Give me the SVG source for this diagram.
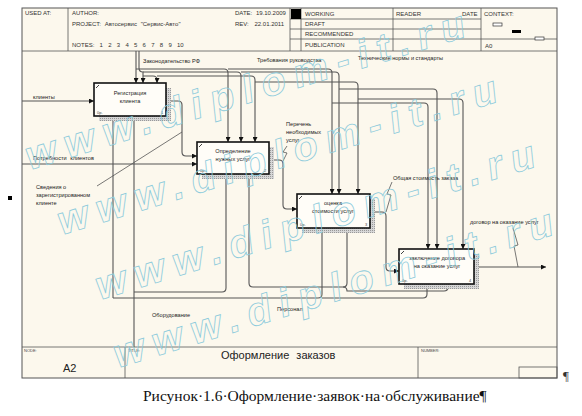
<svg xmlns="http://www.w3.org/2000/svg" width="582" height="416" viewBox="0 0 582 416">
<defs>
<marker id="ah" viewBox="0 0 6 6" refX="6" refY="3" markerWidth="5" markerHeight="5" orient="auto" markerUnits="userSpaceOnUse"><path d="M0,0 L6,3 L0,6 z" fill="#111"/></marker>
<pattern id="hatch" width="2" height="2" patternUnits="userSpaceOnUse"><rect width="2" height="2" fill="#d6d6d6"/><rect width="1" height="1" fill="#999"/></pattern>
</defs>
<style>
.t{font-family:"Liberation Sans",Arial,sans-serif;font-size:5.6px;fill:#222}
.h{font-family:"Liberation Sans",Arial,sans-serif;font-size:6px;fill:#333}
.s{font-family:"Liberation Sans",Arial,sans-serif;font-size:4px;fill:#444}
.box{fill:#fffdf8;stroke:#111;stroke-width:1.6}
.sh{fill:url(#hatch)}
.c{fill:none;stroke:#555;stroke-width:1.1}
.a{marker-end:url(#ah)}
.fr{fill:none;stroke:#555;stroke-width:0.8}
.sq{fill:none;stroke:#555;stroke-width:0.8}
.wm{font-family:"Liberation Sans",Arial,sans-serif;font-weight:bold;font-style:italic;font-size:40px;fill:none;stroke:#8ccbdc;stroke-width:0.8;letter-spacing:9px}
</style>
<rect width="582" height="416" fill="#fff"/>
<rect x="22" y="8" width="535" height="370" fill="#fcf8ed" stroke="#555" stroke-width="1"/>
<g id="header">
<line class="fr" x1="22" y1="51" x2="557" y2="51"/>
<line class="fr" x1="68" y1="8" x2="68" y2="51"/>
<line class="fr" x1="290" y1="8" x2="290" y2="51"/>
<line class="fr" x1="301" y1="8" x2="301" y2="51"/>
<line class="fr" x1="393" y1="8" x2="393" y2="51"/>
<line class="fr" x1="481" y1="8" x2="481" y2="51"/>
<line class="fr" x1="290" y1="19" x2="481" y2="19"/>
<line class="fr" x1="290" y1="29" x2="481" y2="29"/>
<line class="fr" x1="290" y1="39" x2="557" y2="39"/>
<rect x="291" y="9" width="10" height="10" fill="#000"/>
<text class="h" x="25" y="15">USED AT:</text>
<text class="h" x="72" y="15">AUTHOR:</text>
<text class="h" x="72" y="26" word-spacing="2">PROJECT: Автосервис "Сервис-Авто"</text>
<text class="h" x="72" y="47" word-spacing="3.6">NOTES: 1 2 3 4 5 6 7 8 9 10</text>
<text class="h" x="235" y="15" word-spacing="2">DATE: 19.10.2009</text>
<text class="h" x="235" y="26" word-spacing="4">REV: 22.01.2011</text>
<text class="h" x="305" y="16">WORKING</text>
<text class="h" x="305" y="26">DRAFT</text>
<text class="h" x="305" y="36">RECOMMENDED</text>
<text class="h" x="305" y="47">PUBLICATION</text>
<text class="h" x="396" y="16">READER</text>
<text class="h" x="462" y="16">DATE</text>
<text class="h" x="484" y="16">CONTEXT:</text>
<text class="h" x="485" y="48">A0</text>
<rect x="493" y="23" width="9" height="3" fill="#fff" stroke="#333" stroke-width="0.7"/>
<rect x="512" y="30" width="9" height="3" fill="#000"/>
<rect x="535" y="37" width="9" height="3" fill="#fff" stroke="#333" stroke-width="0.7"/>
</g>
<g id="footer">
<line class="fr" x1="22" y1="347" x2="557" y2="347"/>
<line class="fr" x1="125" y1="347" x2="125" y2="378"/>
<line class="fr" x1="418" y1="347" x2="418" y2="378"/>
<rect x="519" y="367" width="38" height="11" fill="none" stroke="#555" stroke-width="0.8"/>
<text class="s" x="24" y="352">NODE:</text>
<text class="s" x="128" y="352">TITLE:</text>
<text class="s" x="421" y="352">NUMBER:</text>
<text x="63" y="372" font-family="Liberation Sans, Arial, sans-serif" font-size="11" fill="#222">A2</text>
<text x="221" y="359" font-family="Liberation Sans, Arial, sans-serif" font-size="11" word-spacing="4" fill="#222">Оформление заказов</text>
</g>
<g id="connectors">
<!-- inputs / outputs -->
<path class="c a" d="M22,101 H94"/>
<path class="c a" d="M22,164 H197"/>
<path class="c a" d="M166,101 H178 q4,0 4,4 V152 q0,4 4,4 H197"/>
<path class="c a" d="M269,160 H279 q4,0 4,4 V205 q0,4 4,4 H297"/>
<path class="c a" d="M370,212 H382 q4,0 4,4 V267 q0,4 4,4 H399"/>
<path class="c a" d="M474,267 H546"/>
<path class="sq" d="M97,186 L182,132"/>
<path class="sq" d="M287,146 L283,152 L287,153 L283,161"/>
<path class="sq" d="M392,182 L387,194 L391,195 L386,212"/>
<path class="sq" d="M513,228 L518,245 L514,246 L518,267"/>
<!-- controls -->
<path class="c a" d="M136,51 V83"/>
<path class="c a" d="M136,69 H224 q4,0 4,4 V142"/>
<path class="c a" d="M228,69 H328 q4,0 4,4 V194"/>
<path class="c a" d="M332,103 H424 q4,0 4,4 V249"/>
<path class="c a" d="M139,51 V68 q0,4 4,4 V83"/>
<path class="c a" d="M143,72 H237 q4,0 4,4 V142"/>
<path class="c a" d="M241,72 H335 q4,0 4,4 V194"/>
<path class="c a" d="M339,89 H433 q4,0 4,4 V249"/>
<path class="c a" d="M143,76 H153 q4,0 4,4 V83"/>
<path class="c a" d="M157,76 H251 q4,0 4,4 V142"/>
<path class="c a" d="M255,82 H354 q4,0 4,4 V194"/>
<path class="c a" d="M358,99 H459 q4,0 4,4 V249"/>
<!-- mechanisms -->
<path class="c a" d="M134,347 V116"/>
<path class="c a" d="M134,292 H222 q4,0 4,-4 V173"/>
<path class="c a" d="M113,298 V116"/>
<path class="c a" d="M113,298 H318 q4,0 4,-4 V228"/>
<path class="c a" d="M322,298 H423 q4,0 4,-4 V284"/>
<path class="c a" d="M249,173 V283 q0,4 4,4 H343 q4,0 4,-4 V228"/>
<path class="c a" d="M343,287 q4,0 4,4 H444 q4,0 4,-4 V284"/>
</g>
<g id="labels">
<text class="t" x="33" y="99">клиенты</text>
<text class="t" x="33" y="160" word-spacing="2">Потребности клиентов</text>
<text class="t" x="36" y="189">Сведения о</text>
<text class="t" x="36" y="197">зарегистрированном</text>
<text class="t" x="36" y="205">клиенте</text>
<text class="t" x="143" y="63">Законодательство РФ</text>
<text class="t" x="257" y="62">Требования руководства</text>
<text class="t" x="358" y="60">Технические нормы и стандарты</text>
<text class="t" x="286" y="126">Перечень</text>
<text class="t" x="286" y="134">необходимых</text>
<text class="t" x="286" y="142">услуг</text>
<text class="t" x="393" y="180">Общая стоимость заказа</text>
<text class="t" x="470" y="224">договор на оказание услуг</text>
<text class="t" x="152" y="317">Оборудование</text>
<text class="t" x="277" y="311">Персонал</text>
</g>
<g id="box1">
<rect class="sh" x="99" y="88" width="72" height="33"/>
<rect class="box" x="94" y="83" width="72" height="33"/>
<path d="M96,88 L99,85" stroke="#111" stroke-width="0.8"/>
<text class="t" x="130" y="95" text-anchor="middle">Регистрация</text>
<text class="t" x="130" y="103" text-anchor="middle">клиента</text>
<text class="s" x="97" y="114">0р.</text>
<text class="s" x="161" y="114">1</text>
</g>
<g id="box2">
<rect class="sh" x="202" y="147" width="72" height="32"/>
<rect class="box" x="197" y="142" width="72" height="32"/>
<path d="M199,147 L202,144" stroke="#111" stroke-width="0.8"/>
<text class="t" x="233" y="153" text-anchor="middle">Определение</text>
<text class="t" x="233" y="161" text-anchor="middle">нужных услуг</text>
<text class="s" x="200" y="172">0р.</text>
<text class="s" x="264" y="172">2</text>
</g>
<g id="box3">
<rect class="sh" x="302" y="199" width="73" height="34"/>
<rect class="box" x="297" y="194" width="73" height="34"/>
<path d="M299,199 L302,196" stroke="#111" stroke-width="0.8"/>
<text class="t" x="333" y="205" text-anchor="middle">оценка</text>
<text class="t" x="333" y="213" text-anchor="middle">стоимости услуг</text>
<text class="s" x="300" y="226">0р.</text>
<text class="s" x="365" y="226">3</text>
</g>
<g id="box4">
<rect class="sh" x="404" y="254" width="75" height="35"/>
<rect class="box" x="399" y="249" width="75" height="35"/>
<path d="M401,254 L404,251" stroke="#111" stroke-width="0.8"/>
<text class="t" x="437" y="260" text-anchor="middle">заключение договора</text>
<text class="t" x="437" y="268" text-anchor="middle">на оказание услуг</text>
<text class="s" x="402" y="282">0р.</text>
<text class="s" x="469" y="282">4</text>
</g>
<rect x="8" y="196" width="4" height="4" fill="#000"/>
<text x="563" y="380" font-family="Liberation Serif, Times New Roman, serif" font-size="13" fill="#333">¶</text>
<text x="143" y="401" font-family="Liberation Serif, Times New Roman, serif" font-size="15.5" fill="#111">Рисунок·1.6·Оформление·заявок·на·обслуживание¶</text>
<g id="watermark">
<text class="wm" transform="translate(30,170) rotate(-17)">www.diplom-it.ru</text>
<text class="wm" transform="translate(62,235) rotate(-17)">www.diplom-it.ru</text>
<text class="wm" transform="translate(100,300) rotate(-17)">www.diplom-it.ru</text>
<text class="wm" transform="translate(118,368) rotate(-17)">www.diplom-it.ru</text>
</g>
</svg>
